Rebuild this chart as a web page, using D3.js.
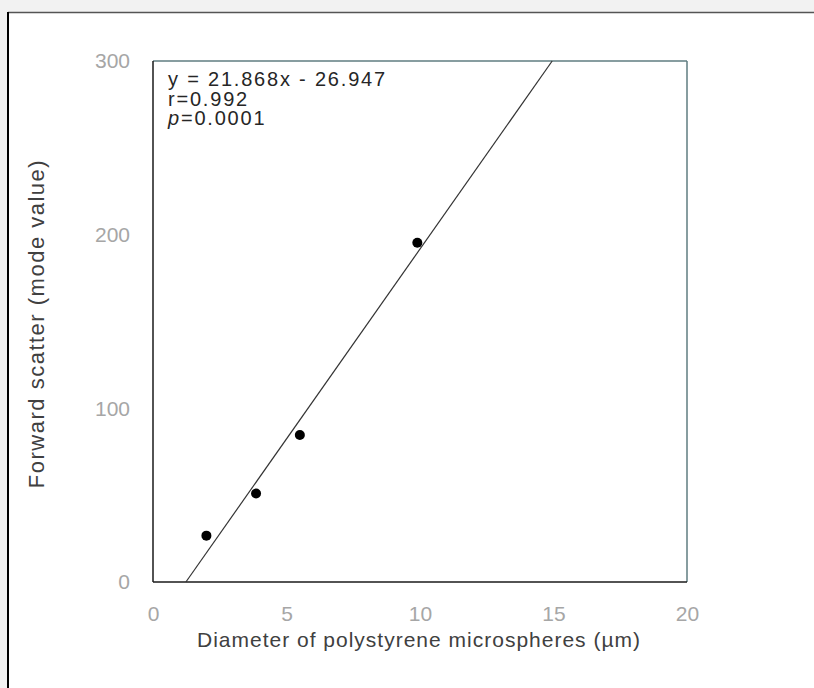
<!DOCTYPE html>
<html>
<head>
<meta charset="utf-8">
<script src="https://cdn.jsdelivr.net/npm/d3@7"></script>
<style>
   html, body { margin: 0; padding: 0; background: #f2f2f2; }
   svg { display: block; }
   .tickText { font-family: "Liberation Sans", Arial, sans-serif; font-size: 21px; fill: #a6a6a6; }
   .titleText { font-family: "Liberation Sans", Arial, sans-serif; font-size: 21px; fill: #404040; letter-spacing: 1px; }
   .noteText { font-family: "Liberation Sans", Arial, sans-serif; font-size: 20px; fill: #262626; letter-spacing: 1.8px; }
</style>
</head>
<body>
<div id="svgContainer"></div>
<script>

   // chart data

   var diameters = [2.0, 3.86, 5.5, 9.9];      // µm
   var scatterValues = [26.7, 51.0, 84.6, 195.3]; // forward scatter mode value
   var xTicks = [0, 5, 10, 15, 20];
   var yTicks = [0, 100, 200, 300];
   var fitSlope = 21.868;
   var fitIntercept = -26.947;
   var noteLines = ['y = 21.868x - 26.947', 'r=0.992', 'p=0.0001'];

   var SVG_WIDTH = 814;
   var SVG_HEIGHT = 688;

   // plot area edges
   var PLOT_LEFT = 153;
   var PLOT_RIGHT = 687;
   var PLOT_TOP = 61;
   var PLOT_BOTTOM = 582;

   var POINT_R = 5; // radius of markers
   var NOTE_X = 168; // left of the regression note
   var NOTE_LINE = 19.5; // line step of the note

   var svg = d3.select('#svgContainer')
      .append('svg')
      .attr('width', SVG_WIDTH)
      .attr('height', SVG_HEIGHT);

   // white panel with frame on left and top
   svg.append('rect')
      .attr('x', 8)
      .attr('y', 12)
      .attr('width', SVG_WIDTH - 8)
      .attr('height', SVG_HEIGHT - 12)
      .attr('fill', '#ffffff');

   svg.append('line')
      .attr('x1', 8).attr('y1', 12.5)
      .attr('x2', SVG_WIDTH).attr('y2', 12.5)
      .attr('stroke', '#555555')
      .attr('stroke-width', 1.5);

   svg.append('line')
      .attr('x1', 8).attr('y1', 12)
      .attr('x2', 8).attr('y2', SVG_HEIGHT)
      .attr('stroke', '#000000')
      .attr('stroke-width', 2);

   var x = d3.scaleLinear()
      .domain([0, 20])
      .range([PLOT_LEFT, PLOT_RIGHT]);

   var y = d3.scaleLinear()
      .domain([0, 300])
      .range([PLOT_BOTTOM, PLOT_TOP]);

   // axes: only labels, the frame is drawn separately
   var xAxis = svg.append('g')
      .attr('transform', 'translate(0,' + PLOT_BOTTOM + ')')
      .call(d3.axisBottom(x).tickValues(xTicks).tickSize(0).tickPadding(24));

   var yAxis = svg.append('g')
      .attr('transform', 'translate(' + PLOT_LEFT + ',0)')
      .call(d3.axisLeft(y).tickValues(yTicks).tickSize(0).tickPadding(23));

   [xAxis, yAxis].forEach(function(axis){
      axis.select('.domain').remove();
      axis.selectAll('text')
         .attr('class', 'tickText')
         .attr('fill', null);
      axis.attr('font-family', null).attr('font-size', null);
   });

   // plot frame: top and right in slate, left and bottom in black
   svg.append('line')
      .attr('x1', PLOT_LEFT).attr('y1', PLOT_TOP)
      .attr('x2', PLOT_RIGHT).attr('y2', PLOT_TOP)
      .attr('stroke', '#5f7c80').attr('stroke-width', 1.5);

   svg.append('line')
      .attr('x1', PLOT_RIGHT).attr('y1', PLOT_TOP)
      .attr('x2', PLOT_RIGHT).attr('y2', PLOT_BOTTOM)
      .attr('stroke', '#5f7c80').attr('stroke-width', 1.5);

   svg.append('line')
      .attr('x1', PLOT_LEFT).attr('y1', PLOT_TOP)
      .attr('x2', PLOT_LEFT).attr('y2', PLOT_BOTTOM)
      .attr('stroke', '#1a1a1a').attr('stroke-width', 1.5);

   svg.append('line')
      .attr('x1', PLOT_LEFT).attr('y1', PLOT_BOTTOM)
      .attr('x2', PLOT_RIGHT).attr('y2', PLOT_BOTTOM)
      .attr('stroke', '#1a1a1a').attr('stroke-width', 1.5);

   // regression line, clipped to the plot range
   var xStart = -fitIntercept / fitSlope;
   var xEnd = (300 - fitIntercept) / fitSlope;

   svg.append('line')
      .attr('x1', x(xStart)).attr('y1', y(0))
      .attr('x2', x(xEnd)).attr('y2', y(300))
      .attr('stroke', '#333333')
      .attr('stroke-width', 1.2);

   // data points
   svg.append('g')
      .selectAll('circle')
      .data(diameters)
      .enter()
      .append('circle')
         .attr('cx', function(d){ return x(d); })
         .attr('cy', function(d, i){ return y(scatterValues[i]); })
         .attr('r', POINT_R)
         .attr('fill', '#000000');

   // axis titles
   svg.append('text')
      .attr('class', 'titleText')
      .attr('x', (PLOT_LEFT + PLOT_RIGHT) / 2 - 1)
      .attr('y', 647)
      .attr('text-anchor', 'middle')
      .text('Diameter of polystyrene microspheres (µm)');

   svg.append('text')
      .attr('class', 'titleText')
      .attr('transform', 'translate(44,' + ((PLOT_TOP + PLOT_BOTTOM) / 2 + 2) + ') rotate(-90)')
      .attr('text-anchor', 'middle')
      .style('font-size', '22px')
      .style('letter-spacing', '1.5px')
      .text('Forward scatter (mode value)');

   // regression note
   var note = svg.append('text')
      .attr('class', 'noteText')
      .attr('x', NOTE_X)
      .attr('y', 86);

   note.append('tspan')
      .attr('x', NOTE_X)
      .text(noteLines[0]);

   note.append('tspan')
      .attr('x', NOTE_X)
      .attr('dy', NOTE_LINE)
      .text(noteLines[1]);

   var pLine = note.append('tspan')
      .attr('x', NOTE_X)
      .attr('dy', NOTE_LINE);

   pLine.append('tspan')
      .attr('font-style', 'italic')
      .text(noteLines[2].charAt(0));

   pLine.append('tspan')
      .text(noteLines[2].slice(1));

</script>
</body>
</html>
